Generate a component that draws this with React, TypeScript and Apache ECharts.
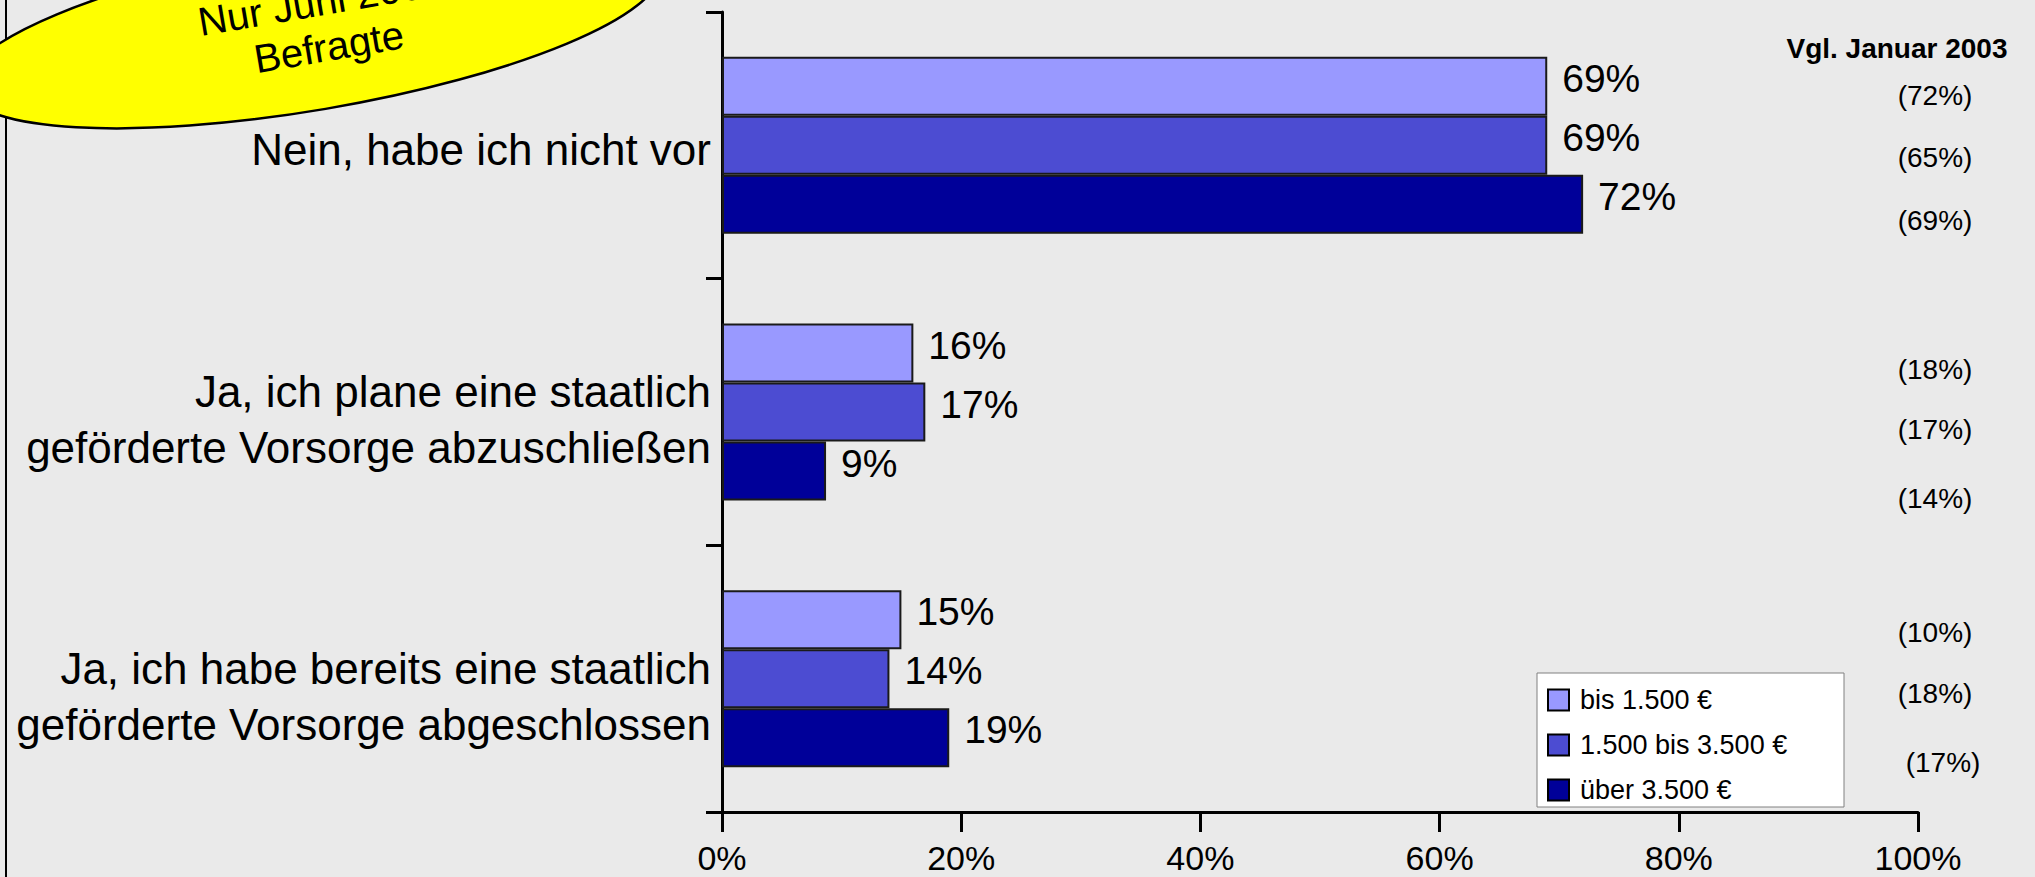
import React, { useEffect, useRef } from "react";
import * as echarts from "echarts";

const categories = [
  "Nein, habe ich nicht vor",
  "Ja, ich plane eine staatlich\ngeförderte Vorsorge abzuschließen",
  "Ja, ich habe bereits eine staatlich\ngeförderte Vorsorge abgeschlossen",
];
const seriesNames = ["bis 1.500 €", "1.500 bis 3.500 €", "über 3.500 €"];
const seriesColors = ["#9999FF", "#4C4CD2", "#000099"];
const lowIncome = [69, 16, 15];
const midIncome = [69, 17, 14];
const highIncome = [72, 8.7, 19];
const januar2003 = ["(72%)", "(65%)", "(69%)", "(18%)", "(17%)", "(14%)", "(10%)", "(18%)", "(17%)"];
const januarTitle = "Vgl. Januar 2003";
const bubbleText = "Nur Juni 2003\nBefragte";

// layout of the comparison column (pixels)
const janX = [1935, 1935, 1935, 1935, 1935, 1935, 1935, 1935, 1943];
const janY = [95, 157, 220, 369, 429, 498, 632, 693, 762];
// downward shift of each category label (pixels)
const labelShift = [4, 7, 18];

const FONT = "'Liberation Sans', Arial, Helvetica, sans-serif";

export default function App() {
  const ref = useRef<HTMLDivElement>(null);
  useEffect(() => {
    if (!ref.current) return;
    const chart = echarts.init(ref.current, null, { renderer: "svg" });
    const values = [lowIncome, midIncome, highIncome];
    const rich: any = {
      t: { fontSize: 44, lineHeight: 56, color: "#000", fontFamily: FONT },
    };
    labelShift.forEach((s, i) => {
      rich["sp" + i] = { fontSize: 1, lineHeight: 2 * s, color: "transparent" };
    });
    const graphics: any[] = [
      {
        type: "line",
        shape: { x1: 6, y1: 0, x2: 6, y2: 877 },
        style: { stroke: "#000", lineWidth: 2 },
        z: 1,
      },
      {
        type: "ellipse",
        x: 312,
        y: 29,
        rotation: (9.7 * Math.PI) / 180,
        shape: { cx: 0, cy: 0, rx: 352, ry: 81 },
        style: { fill: "#FFFF00", stroke: "#000", lineWidth: 2.5 },
        z: 10,
      },
      {
        type: "text",
        x: 325,
        y: 24,
        rotation: (9.7 * Math.PI) / 180,
        style: {
          text: bubbleText,
          font: `40px ${FONT}`,
          fill: "#000",
          textAlign: "center",
          textVerticalAlign: "middle",
          lineHeight: 46,
        },
        z: 11,
      },
      {
        type: "text",
        x: 1897,
        y: 48,
        style: {
          text: januarTitle,
          font: `bold 28px ${FONT}`,
          fill: "#000",
          textAlign: "center",
          textVerticalAlign: "middle",
        },
      },
      ...januar2003.map((t, i) => ({
        type: "text",
        x: janX[i],
        y: janY[i],
        style: {
          text: t,
          font: `28px ${FONT}`,
          fill: "#000",
          textAlign: "center",
          textVerticalAlign: "middle",
        },
      })),
    ];

    chart.setOption({
      animation: false,
      backgroundColor: "#EAEAEA",
      textStyle: { fontFamily: FONT },
      grid: { left: 722, right: 117, top: 12, bottom: 65, containLabel: false },
      legend: {
        orient: "vertical",
        left: 1537,
        top: 673,
        backgroundColor: "#FFFFFF",
        borderColor: "#808080",
        borderWidth: 1,
        borderRadius: 0,
        padding: [12, 19, 2, 10],
        itemWidth: 21,
        itemHeight: 21,
        itemGap: 15,
        icon: "rect",
        itemStyle: { borderColor: "#000", borderWidth: 2 },
        textStyle: { fontSize: 27, color: "#000", fontFamily: FONT, width: 245, lineHeight: 30, padding: [0, 0, 0, 6] },
        data: seriesNames,
      },
      xAxis: {
        type: "value",
        min: 0,
        max: 100,
        interval: 20,
        axisLine: { show: true, lineStyle: { color: "#000", width: 3 } },
        axisTick: { show: true, length: 20, lineStyle: { color: "#000", width: 3 } },
        splitLine: { show: false },
        axisLabel: { formatter: "{value}%", fontSize: 34, lineHeight: 34, color: "#000", margin: 29, fontFamily: FONT },
      },
      yAxis: {
        type: "category",
        inverse: true,
        data: categories,
        axisLine: { show: true, lineStyle: { color: "#000", width: 3 } },
        axisTick: { show: true, length: 16, lineStyle: { color: "#000", width: 3 } },
        axisLabel: {
          margin: 11,
          align: "right",
          color: "#000",
          fontFamily: FONT,
          formatter: (value: string, index: number) =>
            `{sp${index}| }\n` + value.split("\n").map((l) => `{t|${l}}`).join("\n"),
          rich,
        },
      },
      series: seriesNames.map((name, si) => ({
        name,
        type: "bar",
        data: values[si],
        barWidth: 59,
        barGap: "0%",
        itemStyle: { color: seriesColors[si], borderColor: "#1a1a1a", borderWidth: 2 },
        label: {
          show: true,
          position: "right",
          distance: 15,
          offset: [0, -8],
          fontSize: 39,
          color: "#000",
          fontFamily: FONT,
          formatter: (p: any) => `${Math.round(p.value)}%`,
        },
      })),
      graphic: graphics,
    });
    return () => chart.dispose();
  }, []);
  return <div ref={ref} style={{ position: "absolute", left: 0, top: 0, width: 2035, height: 877 }} />;
}
